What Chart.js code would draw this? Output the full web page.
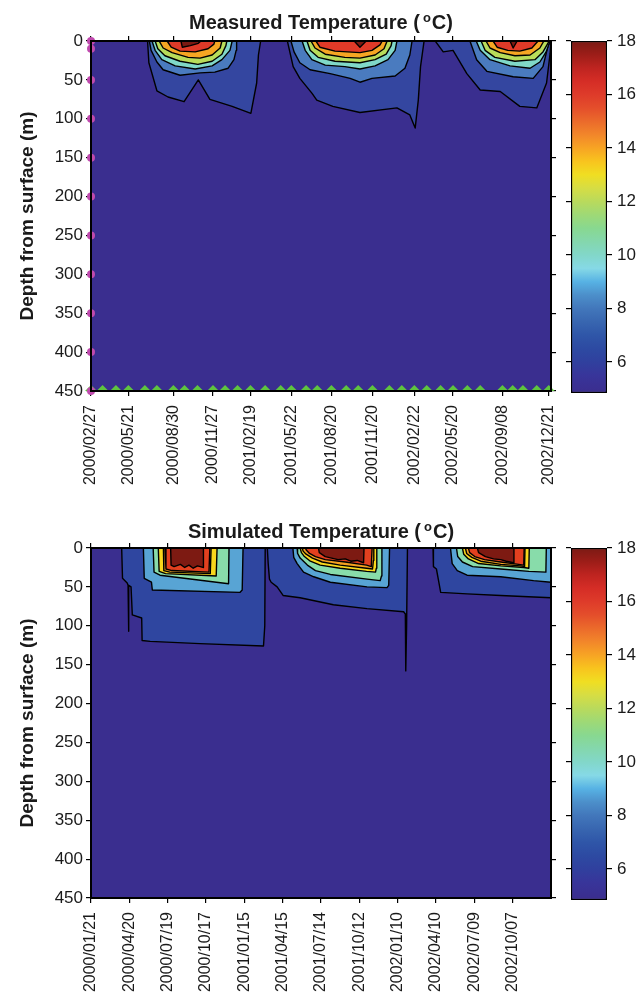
<!DOCTYPE html>
<html>
<head>
<meta charset="utf-8">
<script src="https://cdn.jsdelivr.net/npm/chart.js@4.4.1/dist/chart.umd.min.js"></script>
<style>
  body { margin: 0; background: #fff; width: 644px; height: 1004px; position: relative; overflow: hidden;
         font-family: "Liberation Sans", Arial, Helvetica, sans-serif; }
  canvas { position: absolute; }
  .title { position: absolute; left: 91px; width: 460px; text-align: center; font-weight: bold;
           font-size: 20px; line-height: 20px; color: #1a1a1a; z-index: 2; }
  .title sup { font-size: 13px; line-height: 0; vertical-align: 7px; margin-left: 3px; margin-right: 1px; }
</style>
</head>
<body>
<div class="title" style="top:12px">Measured Temperature (<sup>o</sup>C)</div>
<canvas id="measured" width="565" height="500" style="left:0;top:0;width:565px;height:500px"></canvas>
<canvas id="measuredBar" width="89" height="500" style="left:555px;top:0;width:89px;height:500px"></canvas>
<div class="title" style="top:521px">Simulated Temperature (<sup>o</sup>C)</div>
<canvas id="simulated" width="565" height="504" style="left:0;top:500px;width:565px;height:504px"></canvas>
<canvas id="simulatedBar" width="89" height="504" style="left:555px;top:500px;width:89px;height:504px"></canvas>

<script>
// ---- sampling ----
const sampleDates = ['2000/02/27','2000/03/24','2000/04/23','2000/05/21','2000/06/27','2000/07/24',
  '2000/08/30','2000/09/24','2000/10/23','2000/11/27','2000/12/24','2001/01/21','2001/02/19',
  '2001/03/24','2001/04/28','2001/05/22','2001/06/24','2001/07/19','2001/08/20','2001/09/22',
  '2001/10/19','2001/11/20','2001/12/28','2002/01/25','2002/02/22','2002/03/22','2002/04/22',
  '2002/05/20','2002/06/21','2002/07/20','2002/09/08','2002/10/01','2002/10/24','2002/11/24','2002/12/21'];
const profileDepths = [0, 10, 50, 100, 150, 200, 250, 300, 350, 400, 450];

const measuredTicks = ['2000/02/27','2000/05/21','2000/08/30','2000/11/27','2001/02/19','2001/05/22',
  '2001/08/20','2001/11/20','2002/02/22','2002/05/20','2002/09/08','2002/12/21'];
const simTicks = ['2000/01/21','2000/04/20','2000/07/19','2000/10/17','2001/01/15','2001/04/15',
  '2001/07/14','2001/10/12','2002/01/10','2002/04/10','2002/07/09','2002/10/07'];
const depthTicks = [0, 50, 100, 150, 200, 250, 300, 350, 400, 450];
const colorTicks = [6, 8, 10, 12, 14, 16, 18];

// ---- isotherms: [day since 2000/01/01, depth m], null between seasons ----
const measured6 = [[184,0],[187,28],[205,64],[230,72],[266,78],[298,50],[324,75],[374,84],[416,93],[429,54],[433,18],[438,0], null,
  [498,0],[511,33],[526,48],[553,67],[564,76],[600,84],[661,92],[744,86],[773,95],[785,112],[792,76],[797,33],[805,0], null,
  [830,0],[848,14],[870,12],[901,42],[931,63],[976,65],[1020,84],[1058,86],[1080,54],[1088,16],[1090,0]];
const measured8 = [[188,0],[192,12],[205,27],[219,37],[257,44],[302,41],[335,40],[365,35],[378,24],[383,12],[384,0], null,
  [506,0],[513,14],[526,28],[549,37],[594,42],[639,48],[661,53],[688,48],[740,45],[762,35],[773,18],[778,0], null,
  [908,0],[923,24],[946,39],[1005,46],[1050,48],[1072,33],[1083,7],[1088,0]];
const measured10 = [[194,0],[201,12],[216,24],[246,32],[291,36],[329,32],[351,24],[369,12],[374,0], null,
  [531,0],[538,12],[553,24],[583,31],[627,33],[661,36],[695,32],[724,24],[740,12],[744,0], null,
  [922,0],[931,12],[953,24],[998,32],[1043,35],[1065,27],[1079,14],[1086,3],[1088,0]];
const measured12 = [[201,0],[207,10],[223,19],[257,26],[297,30],[329,26],[351,17],[360,6],[362,0], null,
  [542,0],[549,12],[567,21],[605,26],[661,28],[695,24],[720,17],[731,6],[733,0], null,
  [933,0],[942,12],[964,21],[1009,26],[1054,24],[1072,14],[1081,5],[1086,0]];
const measured14 = [[210,0],[219,9],[239,15],[275,21],[302,22],[329,18],[347,9],[351,0], null,
  [551,0],[560,9],[583,17],[627,21],[661,22],[695,18],[715,10],[722,0], null,
  [944,0],[953,9],[976,15],[1009,19],[1043,18],[1065,9],[1074,0]];
const measured16 = [[228,0],[237,8],[257,13],[291,14],[320,10],[333,4],[335,0], null,
  [562,0],[571,8],[605,13],[661,15],[688,12],[706,5],[711,0], null,
  [960,0],[969,8],[993,12],[1020,13],[1047,9],[1061,0]];
const measured18 = [[259,0],[262,8],[280,6],[298,3],[304,0], null,
  [648,0],[661,8],[675,0], null,
  [998,0],[1005,9],[1014,0]];

const sim6 = [[92,0],[94,39],[105,45],[107,48],[108,107],[109,48],[114,50],[117,86],[139,90],[140,119],[159,120],[276,123],[425,126],[428,100],[429,0], null,
  [434,0],[436,20],[439,40],[443,44],[457,50],[471,61],[511,64],[589,73],[668,78],[754,82],[758,85],[759,158],[761,100],[763,0], null,
  [823,0],[824,24],[831,27],[836,42],[841,57],[903,59],[982,61],[1060,63],[1100,64]];
const sim9 = [[143,0],[145,39],[162,44],[164,54],[370,57],[375,54],[377,0], null,
  [494,0],[496,12],[504,20],[519,31],[543,37],[582,44],[668,50],[715,51],[719,48],[721,0], null,
  [864,0],[868,20],[880,29],[903,35],[982,37],[1059,42],[1100,44]];
const sim11 = [[166,0],[168,31],[182,35],[343,46],[344,0], null,
  [504,0],[505,7],[511,13],[528,22],[547,29],[582,34],[668,40],[699,42],[702,36],[703,0], null,
  [878,0],[881,11],[892,18],[916,24],[982,27],[1048,30],[1088,31],[1089,0]];
const sim13 = [[178,0],[180,30],[195,33],[314,36],[316,0], null,
  [511,0],[514,6],[521,11],[535,17],[558,22],[605,26],[667,30],[688,31],[690,26],[691,0], null,
  [892,0],[895,8],[906,14],[930,20],[982,23],[1036,25],[1048,26],[1049,0]];
const sim14 = [[190,0],[191,29],[205,31],[300,33],[302,0], null,
  [516,0],[518,4],[525,8],[540,13],[563,18],[605,22],[667,26],[681,27],[683,16],[684,0], null,
  [899,0],[902,7],[914,12],[935,17],[982,21],[1029,23],[1038,24],[1039,0]];
const sim15 = [[194,0],[196,27],[210,29],[297,31],[299,0], null,
  [523,0],[526,3],[533,7],[547,11],[570,15],[617,18],[667,22],[678,24],[680,0], null,
  [906,0],[909,6],[921,11],[944,15],[982,18],[1024,21],[1036,22],[1037,0]];
const sim17 = [[207,0],[208,22],[215,24],[230,21],[240,25],[250,22],[260,26],[270,23],[283,25],[284,0], null,
  [554,0],[556,6],[570,11],[600,15],[617,14],[630,17],[645,16],[660,19],[661,0], null,
  [927,0],[930,6],[946,11],[965,14],[982,15],[995,17],[1012,19],[1013,0]];

// ---- colour scale ----
const cmapValues = [4.84, 5.5, 6, 6.5, 7, 7.5, 8, 8.5, 9, 9.5, 10, 10.5, 11, 11.5, 12, 12.5, 13, 13.5, 14, 14.5, 15, 15.5, 16, 16.5, 17, 17.5, 18];
const cmapColors = ['#3b2d8e','#38359a','#30409e','#2d4aa2','#2f56a8','#3866b0','#4277bb','#4c8fca','#57b2e4',
  '#86d9e6','#82d7c9','#84d7ad','#88d890','#9ed976','#b9da5c','#d6dd44','#f0de22','#f8c41e','#f7a424',
  '#f2862a','#eb6a2b','#e44e2b','#de3b2a','#d52d26','#be2420','#9c1d18','#7b1a14'];
const background = '#3a2e8f';
const measuredColors = ['#3446a0','#4a7bbf','#80d8c8','#b8dc5a','#f6a623','#e03a28','#7b1912'];
const simColors = ['#2f46a0','#58a4d4','#88dcaa','#f8d61c','#f5a020','#e2401f','#7d1a12'];

Chart.defaults.font.family = '"Liberation Sans", Arial, Helvetica, sans-serif';
Chart.defaults.color = '#1a1a1a';

const DAY0 = Date.UTC(2000, 0, 1);
function dayOf(s) {
  const [y, m, d] = s.split('/').map(Number);
  return Math.round((Date.UTC(y, m - 1, d) - DAY0) / 86400000);
}

function toPoints(pairs) {
  const pts = [];
  pairs.forEach(p => {
    if (p) pts.push({x: p[0], y: p[1]});
    else pts.push({x: pts[pts.length - 1].x, y: null});
  });
  return pts;
}

// plot background and black frame
const plotFrame = {
  id: 'plotFrame',
  beforeDatasetsDraw(chart, args, opts) {
    const a = chart.chartArea, ctx = chart.ctx;
    ctx.save();
    ctx.fillStyle = opts.background;
    ctx.fillRect(a.left, a.top, a.right - a.left, a.bottom - a.top);
    ctx.restore();
  },
  afterDatasetsDraw(chart) {
    const a = chart.chartArea, ctx = chart.ctx;
    ctx.save();
    ctx.strokeStyle = '#000';
    ctx.lineWidth = 2;
    ctx.strokeRect(a.left, a.top, a.right - a.left, a.bottom - a.top);
    ctx.restore();
  }
};

const tickGrid = { drawOnChartArea: false, tickLength: 5, color: '#000', lineWidth: 1.2 };

function contourChart(id, cfg) {
  const tickDays = cfg.ticks.map(dayOf);
  const labelOf = {};
  cfg.ticks.forEach((s, i) => { labelOf[tickDays[i]] = s; });

  const datasets = cfg.levels.map((pairs, i) => ({
    data: toPoints(pairs),
    xAxisID: 'x', yAxisID: 'y',
    backgroundColor: cfg.colors[i],
    borderColor: '#000',
    borderWidth: 1.4,
    borderJoinStyle: 'round',
    pointRadius: 0,
    tension: 0,
    spanGaps: false,
    fill: {value: 0},
    order: 100 - i
  }));
  (cfg.markers || []).forEach(m => datasets.push(m));

  const setTicks = s => { s.ticks = tickDays.map(v => ({value: v})); };
  // keep the plot box fixed, whatever room the end labels ask for
  const fixBottom = s => { s.height = cfg.bottomH; s.paddingLeft = 0; s.paddingRight = 0; };

  return new Chart(document.getElementById(id), {
    type: 'line',
    data: { datasets },
    options: {
      responsive: false,
      animation: false,
      devicePixelRatio: 1,
      events: [],
      layout: { padding: 0 },
      plugins: {
        legend: { display: false },
        tooltip: { enabled: false },
        plotFrame: { background }
      },
      scales: {
        x: {
          type: 'linear', position: 'bottom', min: cfg.xMin, max: cfg.xMax,
          afterBuildTicks: setTicks,
          afterFit: fixBottom,
          ticks: { autoSkip: false, minRotation: 90, maxRotation: 90, padding: 9,
                   font: { size: 16 }, callback: v => labelOf[v] },
          grid: tickGrid, border: { display: false }
        },
        x2: {
          type: 'linear', position: 'top', min: cfg.xMin, max: cfg.xMax,
          afterBuildTicks: setTicks,
          afterFit: s => { s.height = cfg.topH; s.paddingLeft = 0; s.paddingRight = 0; },
          ticks: { display: false },
          grid: tickGrid, border: { display: false }
        },
        y: {
          type: 'linear', position: 'left', reverse: true, min: 0, max: 450,
          afterBuildTicks: s => { s.ticks = depthTicks.map(v => ({value: v})); },
          afterFit: s => { s.width = 91; },
          ticks: { padding: 3, font: { size: 17 } },
          grid: tickGrid, border: { display: false },
          title: { display: true, text: 'Depth from surface (m)', font: { size: 19, weight: 'bold' },
                   padding: { top: 16, bottom: 0 } }
        },
        y2: {
          type: 'linear', position: 'right', reverse: true, min: 0, max: 450,
          afterBuildTicks: s => { s.ticks = depthTicks.map(v => ({value: v})); },
          afterFit: s => { s.width = 14; },
          ticks: { display: false },
          grid: tickGrid, border: { display: false }
        }
      }
    },
    plugins: [plotFrame]
  });
}

function colorBar(id, padTop, padBottom) {
  const lo = cmapValues[0], hi = cmapValues[cmapValues.length - 1];
  return new Chart(document.getElementById(id), {
    type: 'bar',
    data: {
      labels: [''],
      datasets: [{
        data: [[lo, hi]],
        backgroundColor(c) {
          const chart = c.chart;
          if (!chart.chartArea) return 'rgba(0,0,0,0)';
          const y = chart.scales.y;
          const g = chart.ctx.createLinearGradient(0, y.getPixelForValue(lo), 0, y.getPixelForValue(hi));
          cmapValues.forEach((v, i) => g.addColorStop((v - lo) / (hi - lo), cmapColors[i]));
          return g;
        },
        borderColor: '#000',
        borderWidth: 1.5,
        borderSkipped: false,
        barPercentage: 1,
        categoryPercentage: 1
      }]
    },
    options: {
      responsive: false,
      animation: false,
      devicePixelRatio: 1,
      events: [],
      layout: { padding: { top: padTop, bottom: padBottom, left: 0, right: 0 } },
      plugins: { legend: { display: false }, tooltip: { enabled: false } },
      scales: {
        x: { display: false },
        y: {
          position: 'right', min: lo, max: hi,
          afterBuildTicks: s => { s.ticks = colorTicks.map(v => ({value: v})); },
          afterFit: s => { s.width = 37; },
          ticks: { padding: 5, font: { size: 17 } },
          grid: tickGrid, border: { display: false }
        },
        y2: {
          position: 'left', min: lo, max: hi,
          afterBuildTicks: s => { s.ticks = colorTicks.map(v => ({value: v})); },
          afterFit: s => { s.width = 16; },
          ticks: { display: false },
          grid: tickGrid, border: { display: false }
        }
      }
    }
  });
}

// measured panel: profile depths on the left edge, sampling dates along the bottom
const firstDay = dayOf(sampleDates[0]);
contourChart('measured', {
  xMin: 57, xMax: 1090, topH: 41, bottomH: 109,
  ticks: measuredTicks,
  levels: [measured6, measured8, measured10, measured12, measured14, measured16, measured18],
  colors: measuredColors,
  markers: [
    {
      data: sampleDates.map(s => ({x: dayOf(s), y: 450})),
      xAxisID: 'x', yAxisID: 'y', showLine: false,
      pointStyle: 'rectRot', pointRadius: 6, pointBackgroundColor: '#5ec43e', pointBorderWidth: 0,
      clip: { left: 8, right: 8, top: 0, bottom: 0 }, order: 1
    },
    {
      data: profileDepths.map(d => ({x: firstDay, y: d})),
      xAxisID: 'x', yAxisID: 'y', showLine: false,
      pointStyle: 'circle', pointRadius: 4, pointBackgroundColor: '#c04aae', pointBorderWidth: 0,
      clip: false, order: 0
    }
  ]
});
colorBar('measuredBar', 41, 107);

contourChart('simulated', {
  xMin: 20, xMax: 1100, topH: 48, bottomH: 106,
  ticks: simTicks,
  levels: [sim6, sim9, sim11, sim13, sim14, sim15, sim17],
  colors: simColors
});
colorBar('simulatedBar', 48, 104);
</script>
</body>
</html>
